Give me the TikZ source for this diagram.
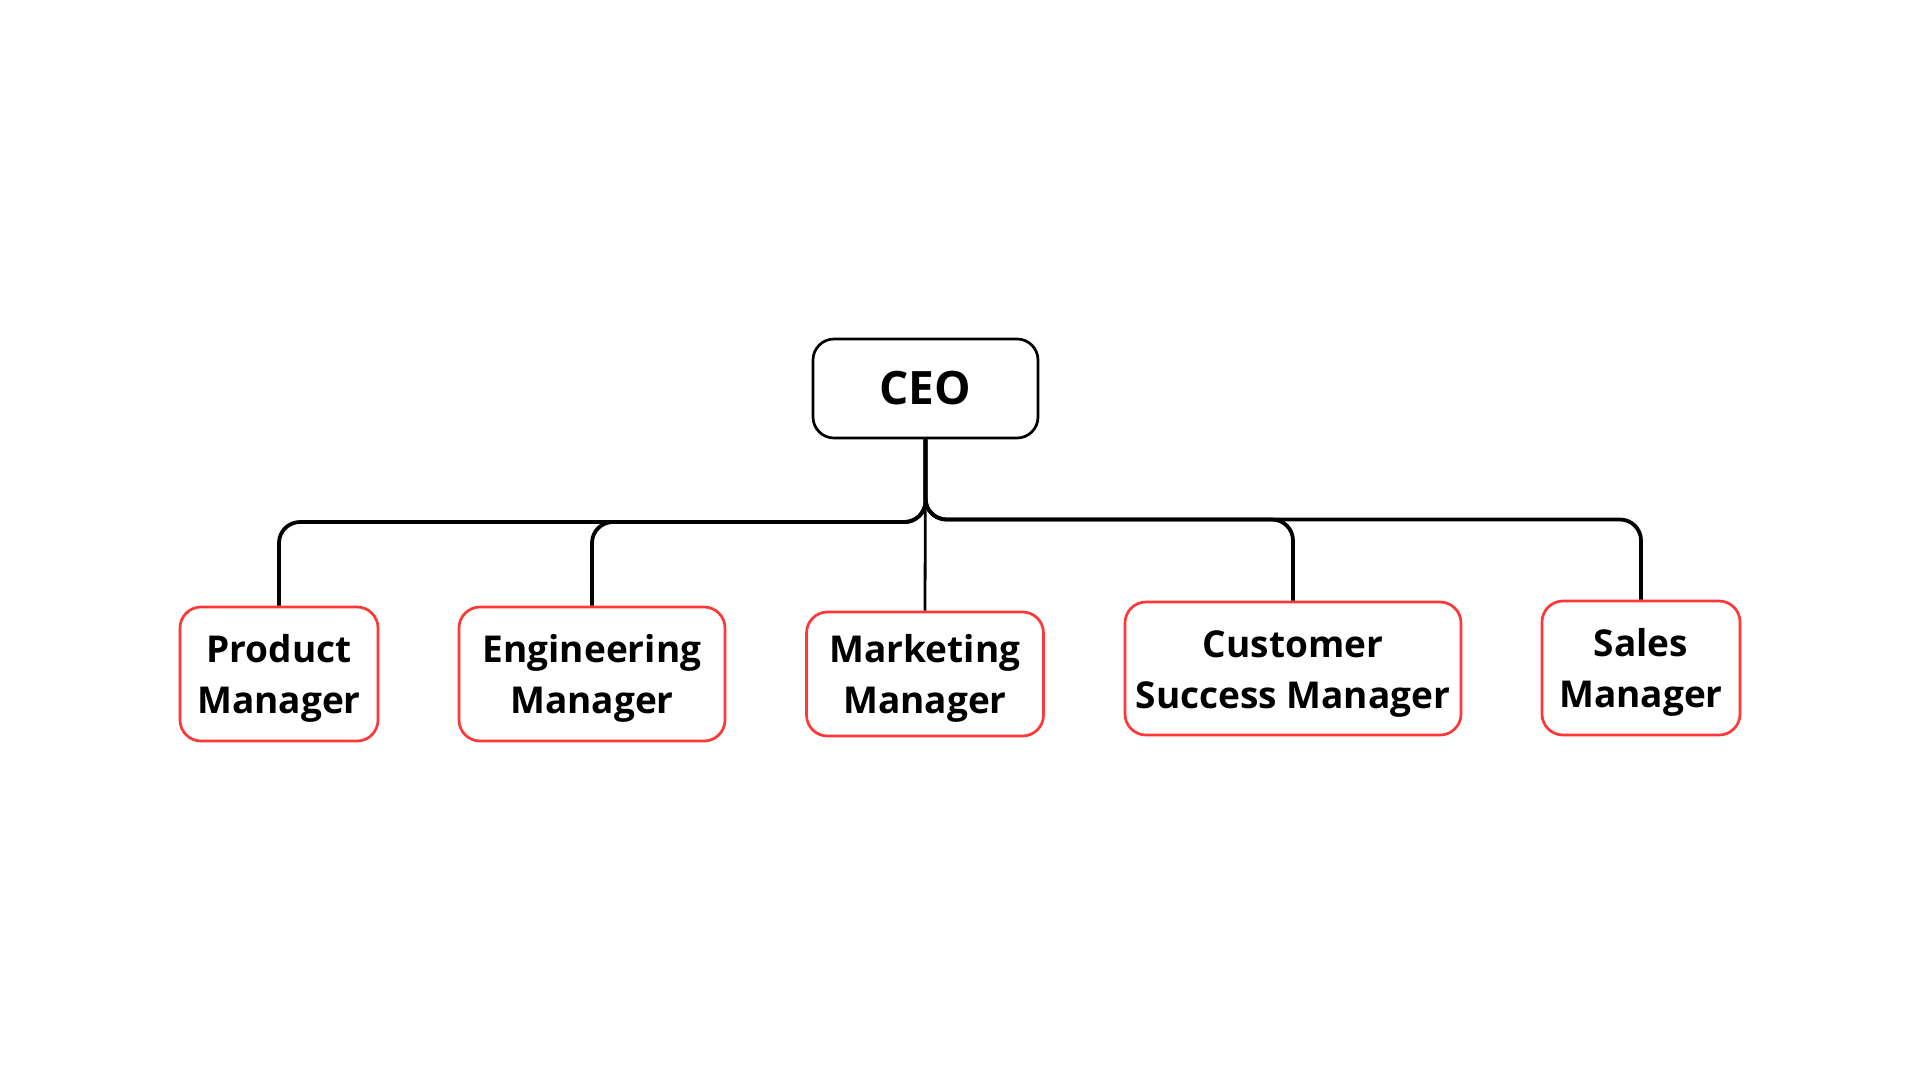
\documentclass[tikz,border=0pt]{standalone}
\usepackage{fontspec}
\setmainfont{Open Sans}[BoldFont={* Bold}]
\definecolor{boxred}{RGB}{255,55,55}
\begin{document}
\begin{tikzpicture}[x=1pt,y=-1pt,
  box/.style={draw=boxred, line width=2.7pt, rounded corners=21pt, fill=white,
    align=center, inner sep=0pt, font=\bfseries\fontsize{37}{51}\selectfont,
    text height=88pt, text depth=9pt},
  ceobox/.style={draw=black, line width=2.7pt, rounded corners=21pt, fill=white,
    inner sep=0pt, minimum width=225pt, minimum height=99pt,
    font=\bfseries\fontsize{46}{55}\selectfont},
  link/.style={draw=black, line width=3.8pt, rounded corners=21pt},
  thinlink/.style={draw=black, line width=2.8pt}]
\useasboundingbox (0,0) rectangle (1920,1080);
\fill[white] (0,0) rectangle (1920,1080);

\coordinate (hl) at (0,522);
\coordinate (hr) at (0,519.5);

\node[ceobox] (ceo) at (925.5,388.5) {CEO};
\node[box, minimum width=198pt, minimum height=134pt] (pm) at (279,674) {Product\\Manager};
\node[box, minimum width=266pt, minimum height=134pt] (em) at (592,674) {Engineering\\Manager};
\node[box, minimum width=237pt, minimum height=124pt] (mm) at (925,674) {Marketing\\Manager};
\node[box, minimum width=336pt, minimum height=133pt] (csm) at (1293,668.5) {Customer\\Success Manager};
\node[box, minimum width=198pt, minimum height=134pt] (sm) at (1641,668) {Sales\\Manager};

\draw[link] (ceo.south) -- (ceo.south |- hl) -| (pm.north);
\draw[link] (ceo.south) -- (ceo.south |- hl) -| (em.north);
\draw[link] (ceo.south) -- (ceo.south |- hr) -| (csm.north);
\draw[link] (ceo.south) -- (ceo.south |- hr) -| (sm.north);
\draw[thinlink] (ceo.south) -- (mm.north);
\end{tikzpicture}
\end{document}
